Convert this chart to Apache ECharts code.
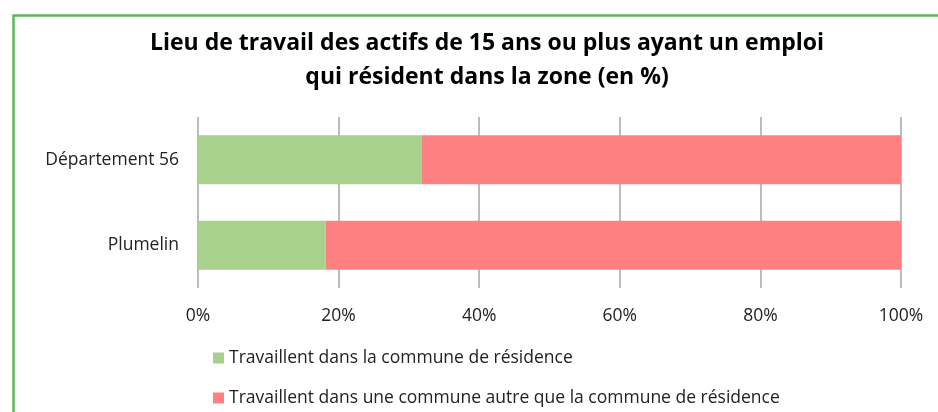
<!DOCTYPE html>
<html><head><meta charset="utf-8">
<script src="https://cdn.jsdelivr.net/npm/echarts@6/dist/echarts.min.js"></script>
<style>html,body{margin:0;padding:0;background:#fff}#c{width:938px;height:412px}</style>
</head><body><div id="c"></div>
<script>
const categories = ['Plumelin', 'Département 56'];
const seriesNames = ['Travaillent dans la commune de résidence', 'Travaillent dans une commune autre que la commune de résidence'];
const inCommune = [18.15, 31.85];
const otherCommune = [81.85, 68.15];
const titleText = 'Lieu de travail des actifs de 15 ans ou plus ayant un emploi\nqui résident dans la zone (en %)';

const FONT = 'Open Sans';
const legendBase = {
  orient: 'vertical', left: 213, padding: 0,
  itemWidth: 11, itemHeight: 11,
  icon: 'rect',
  textStyle: {fontSize: 17.5, lineHeight: 20, color: '#222', fontFamily: FONT}
};
const chart = echarts.init(document.getElementById('c'), null, {renderer: 'canvas'});
chart.setOption({
  animation: false,
  backgroundColor: '#fff',
  textStyle: {fontFamily: FONT},
  graphic: [{
    type: 'rect', left: 11, top: 13, silent: true,
    shape: {width: 1000, height: 500},
    style: {fill: 'none', stroke: '#5cb85c', lineWidth: 2.5}
  }],
  title: {
    text: titleText,
    left: 482, top: 21, textAlign: 'center',
    textStyle: {fontFamily: FONT, fontSize: 23, fontWeight: 'bold', color: '#000', lineHeight: 34}
  },
  grid: {left: 198, right: 37, top: 117, bottom: 124, containLabel: false},
  xAxis: {
    type: 'value', min: 0, max: 100, interval: 20,
    axisLine: {show: false}, axisTick: {show: false},
    splitLine: {show: true, lineStyle: {color: '#a6a6a6', width: 1.5}},
    axisLabel: {formatter: '{value}%', fontSize: 17.5, color: '#222', margin: 19, fontFamily: FONT}
  },
  yAxis: {
    type: 'category', data: categories,
    axisLine: {show: false}, axisTick: {show: false},
    axisLabel: {fontSize: 17.5, color: '#222', margin: 19, fontFamily: FONT}
  },
  legend: [
    Object.assign({}, legendBase, {top: 348, data: [seriesNames[0]]}),
    Object.assign({}, legendBase, {top: 388, data: [seriesNames[1]]})
  ],
  series: [
    {name: seriesNames[0], type: 'bar', stack: 't', data: inCommune, barWidth: 49,
     itemStyle: {color: '#a9d18e'}},
    {name: seriesNames[1], type: 'bar', stack: 't', data: otherCommune, barWidth: 49,
     itemStyle: {color: '#ff8080'}}
  ]
});
</script></body></html>
